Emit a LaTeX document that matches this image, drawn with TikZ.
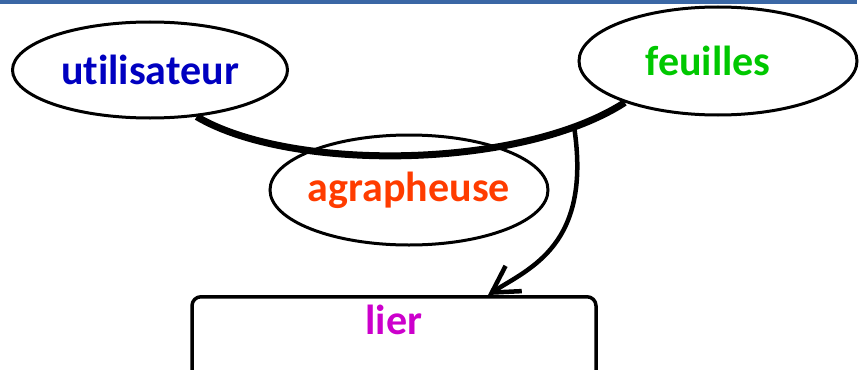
\documentclass[tikz,border=0pt]{standalone}
\usepackage{fontspec}
\setmainfont{Carlito}[Ligatures=NoCommon]
\usetikzlibrary{shapes.geometric,arrows.meta}
\definecolor{barblue}{RGB}{58,103,165}
\definecolor{userblue}{RGB}{0,0,192}
\definecolor{sheetgreen}{RGB}{0,200,0}
\definecolor{staplered}{RGB}{255,60,0}
\definecolor{bindpurple}{RGB}{204,0,204}
\tikzset{
	bubble/.style={draw, ellipse, line width=3pt, inner sep=0pt},
	taskbox/.style={draw, rounded corners=9pt, line width=3.5pt, inner xsep=0pt},
}
\begin{document}
\begin{tikzpicture}[x=1pt, y=-1pt, font=\fontsize{42}{50}\selectfont\bfseries]
	\useasboundingbox (0,0) rectangle (866,369);
	\fill[barblue] (0,0) rectangle (857,4);

	%actors
	\node[bubble, minimum width=275pt, minimum height=96pt, text=userblue] (utilisateur) at (150,70) {utilisateur};
	\node[bubble, minimum width=278pt, minimum height=108pt, text=sheetgreen] (feuilles) at (718,61) {feuilles\hspace*{20pt}};
	\node[bubble, minimum width=278pt, minimum height=110pt, inner xsep=-4pt, text=staplered] (agrapheuse) at (409,190) {agrapheuse};

	%task
	\node[taskbox, minimum width=404pt, text height=30pt, text depth=40pt, inner ysep=8pt, anchor=north, text=bindpurple] (lier) at (394,295) {lier};
	\coordinate (lierhook) at ([xshift=94pt]lier.north);

	%links
	\draw[line width=7pt] (utilisateur.-45) .. controls (290,172) and (520,170) .. (feuilles.-156) coordinate[pos=0.86] (split);
	\draw[line width=4.5pt, -{Straight Barb[length=26pt,width=30pt]}] (split) .. controls (592,245) and (530,268) .. (lierhook);
\end{tikzpicture}
\end{document}
